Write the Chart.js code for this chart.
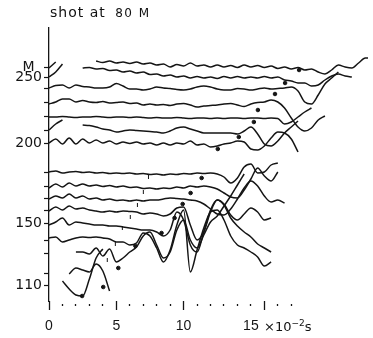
<!DOCTYPE html>
<html>
<head>
<meta charset="utf-8">
<script src="https://cdn.jsdelivr.net/npm/chart.js@4.4.1/dist/chart.umd.min.js"></script>
<style>
  html, body { margin: 0; padding: 0; background: #fff; }
  #wrap { position: relative; width: 373px; height: 338px; }
  #title { position: absolute; left: 50px; top: 4px; font: 14px "DejaVu Sans"; letter-spacing: 1px; color: #111; white-space: nowrap; }
  #title .sc { font-size: 12px; letter-spacing: 1.5px; margin-left: 4px; }
  #unit { position: absolute; left: 264px; top: 318px; font: 13px "DejaVu Sans"; color: #111; white-space: nowrap; }
  #unit sup { font-size: 9px; }
</style>
</head>
<body>
<div id="wrap">
  <canvas id="myChart"></canvas>
  <div id="title">shot at <span class="sc">80 M</span></div>
  <div id="unit">×10<sup>−2</sup>s</div>
</div>
<script>
// time step between samples (x 10^-2 s)
const dt = 0.5;

// trace baselines (axis offset) and the depth labels written beside them
const traceBase = [233, 223, 212, 198, 183, 170, 157, 128, 113, 102, 90, 77, 60, 47, 27, 15];
const depthLabels = ['M', '250', '', '', '', '', '200', '', '', '', '', '150', '', '', '', '110'];

// x axis ticks
const xTickValues = [0, 1, 2, 3, 4, 5, 6, 7, 8, 9, 10, 11, 12, 13, 14, 15, 16, 17, 18];
const xTickLabels = { 0: '0', 5: '5', 10: '10', 15: '15' };
const majorTicks = [0, 5, 10, 16];

// trace samples: displacement from baseline, one value every dt, null = no record
const trace1 = [-1, 5, null, null, null, null, null, 6, 4.5, 6, 4, 5, 3.5, 5, 3, 4, 2, 3, 0, 2.5, 1, 4, 1, 2, 0, 2, 0, 1.5, -0.5, 2, 0, 1.5, -0.5, 1, -1.5, 0, -2, -0.5, -3, -2, -5, -7, -3, 2, 0, -1, 4, 9, 9];
const trace2 = [0, 5, 13, null, null, 9, 9.5, 8, 8.5, 6.5, 7, 5, 6, 4, 5, 2.5, 3, 1, 2, 0, 1, -1, 0.5, -1, 0, -1.5, 0.5, -1, 0.5, -1, 0, -1, 0.5, -1, 0, -3, -4, -6, -6, -9, -8, -3, 1, 3, 1, 0];
const trace3 = [0, 2.5, 3, 0, 3, 1.5, 1, 0, 0, 1, 4.5, 2, -1, -1, -2, -1, 1, 0, -0.5, -1.5, -2, -1, 1, 2, 1, -1, -2, -2, -0.5, -1, -2, -1, 0, -1, -0.5, 0, 1, -3, -14, -16, -7, 4, 10, 16];
const trace4 = [-2, 0, 3, 3, 0, 1.5, 0, -0.5, 0.5, -1, -0.5, 0, -1.5, -1, -3, -2, -3, -2.5, -3.5, -2, -1.5, -3, -5, -4, -3.5, -3, -2, -1.5, -3, -4.5, -2, -0.5, 0, 2, 0, -6, -16, -25, -29, -26, -18, -14];
const trace5 = [0, 0, 0.5, 0, -0.5, 0, 0, 0.5, 0, -0.5, 0, 0, -0.5, 0, -0.5, -1, -0.5, -1, -1, -0.5, -1, -1.5, -1, -1, -1.5, -1, -1.5, -1, -1, -1.5, -1, -1, -1.5, -1, -1.5, -7, -5, 0, 5, 9];
const trace6 = [0, 6, 10, null, null, 5, 4.5, 3, 1, 0, -2, -1, 0, -0.5, -1, -1.5, -2, -3, -1, 2, 3, 1, -1, -3, -3, -3, -3, -3, -4, -1, 3, -4, -14, -16, -11, -3, 3, 9];
const trace7 = [0, 4, -1, 5, -1, 4, 0, 3, 0, 2, -1, 1, -0.5, 1, -1, 0, -2, 0, -2, 0, -1, 2, -2, -1, -4, -3, -1, 0, 2, 1, -6, -7, -3, 5, 11, 10, 4, -9];
const trace8 = [0, 1, -1, 0, 0.5, -0.5, 0, -1, -0.5, -1.5, -1, -1.5, -1, -2, -1.5, -2.5, -2, -3, -2, -2.5, -1.5, -2, -1, -1.5, -1, -2, -5, -11, -6, 5, 8, -1, 0, 7, 9];
const trace9 = [-1, 3, 0, 4, 1, 3, 1, 2, 0.5, 1.5, 0, 1, -0.5, 0, -1.5, -1, -2, -1, -1.5, 0, -1, 1, 0, 1, 0, -2, -6, -10, -11, -3, 8, 19, 11, 6, 15];
const trace10 = [-1, 2, 0, 4, 0, 2, -1, 0, -2, -1, -2.5, -2, -3, -2, -3, -2, -2, -1, 0, -0.5, -1, -2, -3, -6, -11, -16, -17, -11, -1, 10, 17, 12, 2, -4, -2, -5];
const trace11 = [-1, 3, 0, 4, 1, 2, 0, -1, -2, -1, -2, -1, -1.5, -2, -4, -3, -4, -6, -4, 2, 3, -15, -30, -22, -2, 10, 6, -5, -10, -4, 2, -2, -10, -8];
const trace12 = [-2, 1, 5, -2, 1, 0, -1, -2, -2, -3, -3, -4, -5, -6, -7, -7, -9, -13, -7, 11, 3, -22, -29, -9, 13, 23, 18, 5, -3, -9, -14, -21, -25, -29];
const trace13 = [2, 3, -2, 0, 2, 3, 2.5, 3, 2, 1, -2, -2, -5, -3, 7, 4, -8, -22, -10, 15, 30, -32, -10, 12, 28, 30, 20, 4, -5, -8, -12, -17, -26, -22];
const trace14 = [null, null, null, null, 1, 1, -1, 5, -3, 4, -9, -5, 1, 6, 17, 21, 8, -5, 1, 23, 33, 13, 5, 18, 31, 37, 47, 57, 68, 79];
const trace15 = [null, null, null, -1, 5, 3, 1, 9, 2, -18];
const trace16 = [null, null, 4, -4, -10, -11, 6, 27, 36];

// picked first arrivals (time, offset) and small timing marks
const pickTimes = [18.58, 17.54, 16.79, 15.52, 15.22, 14.10, 12.54, 11.34, 10.52, 9.93, 9.33, 8.36, 6.42, 5.15, 4.03, 2.46];
const pickOffsets = [230, 217, 206, 190, 178, 163, 151, 122, 107, 96, 82, 67, 54, 32, 13, 4];
const markTimes = [7.39, 7.01, 6.57, 6.04, 5.45, 4.93, 4.33];
const markOffsets = [123, 108, 95, 83, 72, 56, 40];

const traces = [trace1, trace2, trace3, trace4, trace5, trace6, trace7, trace8,
  trace9, trace10, trace11, trace12, trace13, trace14, trace15, trace16];

const ink = '#151515';

const datasets = traces.map((samples, n) => ({
  label: 'trace ' + (n + 1),
  data: samples.map((d, i) => ({ x: i * dt, y: d === null ? null : traceBase[n] + d })),
  borderColor: ink,
  borderWidth: 1.5,
  pointRadius: 0,
  cubicInterpolationMode: 'monotone',
  spanGaps: false,
}));

datasets.push({
  label: 'picks',
  data: pickTimes.map((t, i) => ({ x: t, y: pickOffsets[i] })),
  showLine: false,
  pointRadius: 1.8,
  pointBackgroundColor: ink,
  pointBorderColor: ink,
});

datasets.push({
  label: 'marks',
  data: markTimes.map((t, i) => ({ x: t, y: markOffsets[i] })),
  showLine: false,
  pointStyle: 'line',
  rotation: 90,
  pointRadius: 2,
  pointBorderWidth: 1,
  pointBorderColor: ink,
});

const font = { family: 'DejaVu Sans', size: 14 };

new Chart(document.getElementById('myChart'), {
  type: 'line',
  data: { datasets },
  options: {
    responsive: true,
    maintainAspectRatio: false,
    animation: false,
    events: [],
    layout: { padding: { top: 28, right: 1, bottom: 0, left: 0 } },
    plugins: { legend: { display: false }, tooltip: { enabled: false } },
    scales: {
      x: {
        type: 'linear',
        min: 0,
        max: 23.7,
        border: { display: false },
        grid: {
          drawOnChartArea: false,
          tickLength: 9,
          tickColor: ink,
          tickWidth: 1.3,
          tickBorderDash: ctx => majorTicks.includes(ctx.tick.value) ? [] : [0, 3, 2, 20],
        },
        ticks: {
          autoSkip: false,
          maxRotation: 0,
          padding: 8,
          color: ink,
          font: { family: 'Liberation Sans', size: 14 },
          callback: v => xTickLabels[v] ?? '',
        },
        afterBuildTicks: s => { s.ticks = xTickValues.map(v => ({ value: v })); },
        afterFit: s => { s.height = 37; },
      },
      y: {
        type: 'linear',
        min: -1,
        max: 272,
        border: { display: true, color: ink, width: 1.3 },
        grid: { drawOnChartArea: false, tickLength: 5, tickColor: ink, tickWidth: 1.2 },
        ticks: {
          autoSkip: false,
          crossAlign: 'center',
          padding: 2,
          color: ink,
          font,
          callback: v => {
            const i = traceBase.indexOf(v);
            return i >= 0 ? depthLabels[i] : '';
          },
        },
        afterBuildTicks: s => {
          s.ticks = [...traceBase].sort((a, b) => a - b).map(v => ({ value: v }));
        },
        afterFit: s => { s.width = 49; },
      },
    },
  },
});
</script>
</body>
</html>
